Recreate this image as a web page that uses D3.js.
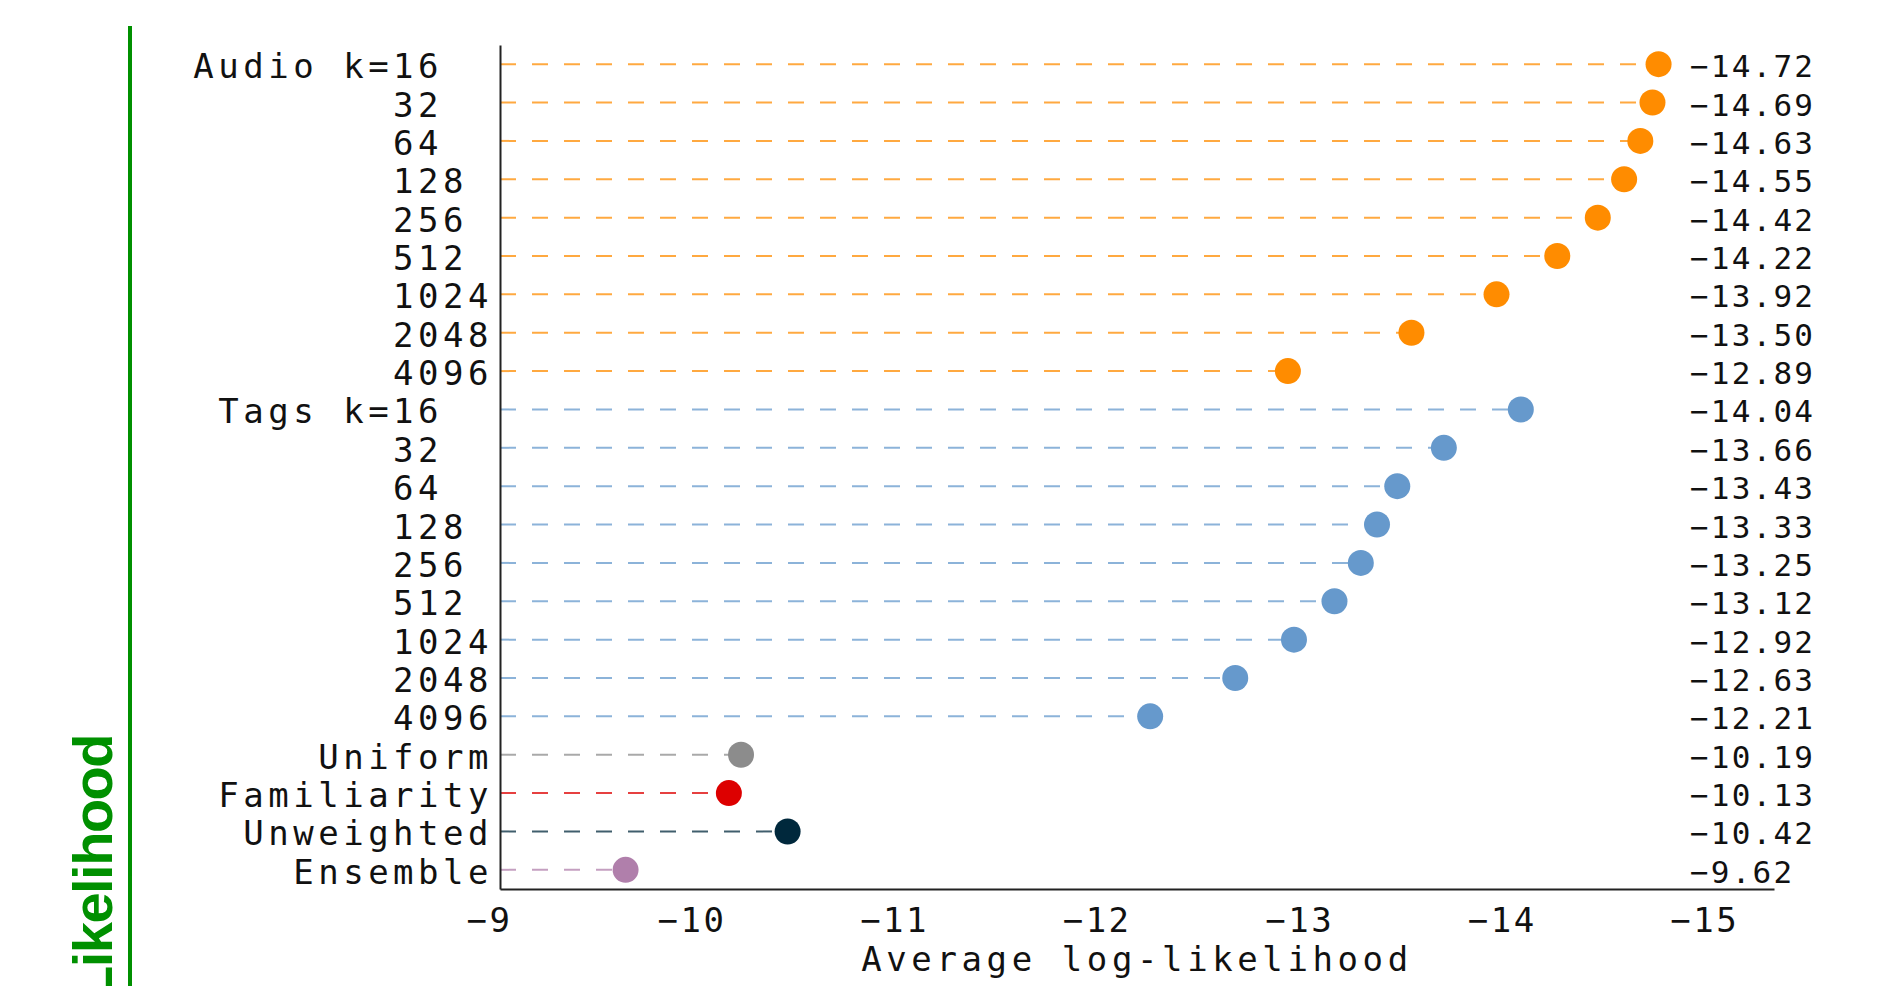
<!DOCTYPE html>
<meta charset="utf-8">
<style>
body { margin: 0; background: #fff; }
text { font-family: "DejaVu Sans Mono", "Liberation Mono", monospace; fill: #111; }
.rowlab { font-size: 34px; letter-spacing: 4.5px; white-space: pre; }
.tick text { font-size: 34px; letter-spacing: 2.5px; }
.val { font-size: 31px; letter-spacing: 2.2px; }
.title { font-size: 34px; letter-spacing: 4.6px; }
.stem { stroke-width: 2px; stroke-dasharray: 16,16; stroke-opacity: 0.75; }
.axis path { stroke: #222; stroke-width: 2px; }
.side { font-family: "Liberation Sans", Arial, sans-serif; font-weight: bold; font-size: 56px; letter-spacing: -1.5px; fill: #009000; }
</style>
<body>
<script src="https://cdn.jsdelivr.net/npm/d3@7"></script>
<script>
var width = 1879,
    height = 986;

// row labels (padded like the original monospace labels)
var labels = ["Audio k=16  ", "32  ", "64  ", "128 ", "256 ", "512 ", "1024", "2048", "4096",
              "Tags k=16  ", "32  ", "64  ", "128 ", "256 ", "512 ", "1024", "2048", "4096",
              "Uniform", "Familiarity", "Unweighted", "Ensemble"];
var audio = [-14.72, -14.69, -14.63, -14.55, -14.42, -14.22, -13.92, -13.50, -12.89];
var tags = [-14.04, -13.66, -13.43, -13.33, -13.25, -13.12, -12.92, -12.63, -12.21];
var baselines = [-10.19, -10.13, -10.42, -9.62];
var baselineColors = ["#8c8c8c", "#dd0000", "#00283c", "#b07fab"];
var xTicks = [-9, -10, -11, -12, -13, -14, -15];

var rows = [];
audio.forEach(function(v) { rows.push({value: v, color: "#ff8c00"}); });
tags.forEach(function(v) { rows.push({value: v, color: "#6699cc"}); });
baselines.forEach(function(v, i) { rows.push({value: v, color: baselineColors[i]}); });
rows.forEach(function(r, i) { r.id = i; r.label = labels[i]; });

var x = d3.scaleLinear().domain([-9, -15.29]).range([500, 1774]);
var y = d3.scaleBand().domain(d3.range(rows.length)).range([45, 889]);
var cy = function(i) { return y(i) + y.bandwidth() / 2; };

var svg = d3.select("body").append("svg")
    .attr("width", width)
    .attr("height", height);

// green marker on the left (cut off at the bottom, as in the original)
svg.append("line")
    .attr("x1", 130).attr("x2", 130)
    .attr("y1", 26).attr("y2", height)
    .attr("stroke", "#009000")
    .attr("stroke-width", 4);
svg.append("text")
    .attr("class", "side")
    .attr("transform", "translate(112,735) rotate(-90)")
    .attr("text-anchor", "end")
    .text("Likelihood");

// stems
svg.selectAll(".stem")
    .data(rows)
  .enter().append("line")
    .attr("class", "stem")
    .attr("x1", x(-9))
    .attr("x2", function(d) { return x(d.value); })
    .attr("y1", function(d) { return cy(d.id); })
    .attr("y2", function(d) { return cy(d.id); })
    .attr("stroke", function(d) { return d.color; });

// dots
svg.selectAll(".dot")
    .data(rows)
  .enter().append("circle")
    .attr("class", "dot")
    .attr("cx", function(d) { return x(d.value); })
    .attr("cy", function(d) { return cy(d.id); })
    .attr("r", 13)
    .attr("fill", function(d) { return d.color; });

// value labels on the right
var fmt = d3.format(".2f");
svg.selectAll(".val")
    .data(rows)
  .enter().append("text")
    .attr("class", "val")
    .attr("x", 1690)
    .attr("y", function(d) { return cy(d.id) + 13; })
    .text(function(d) { return fmt(d.value); });

// row labels
svg.selectAll(".rowlab")
    .data(rows)
  .enter().append("text")
    .attr("class", "rowlab")
    .attr("x", 493)
    .attr("y", function(d) { return cy(d.id) + 14; })
    .attr("text-anchor", "end")
    .text(function(d) { return d.label; });

// axes
svg.append("g")
    .attr("class", "axis")
    .attr("transform", "translate(500,0)")
    .call(d3.axisLeft(y).tickSize(0).tickFormat(""));

var xAxis = svg.append("g")
    .attr("class", "axis")
    .attr("transform", "translate(0,889)")
    .call(d3.axisBottom(x).tickValues(xTicks).tickSize(0).tickSizeOuter(0).tickFormat(d3.format("d")));
xAxis.selectAll(".tick text")
    .attr("dx", -11)
    .attr("dy", 0)
    .attr("y", 43);
xAxis.attr("font-family", null).attr("font-size", null);

svg.append("text")
    .attr("class", "title")
    .attr("x", (x.range()[0] + x.range()[1]) / 2)
    .attr("y", 971)
    .attr("text-anchor", "middle")
    .text("Average log-likelihood");
</script>
